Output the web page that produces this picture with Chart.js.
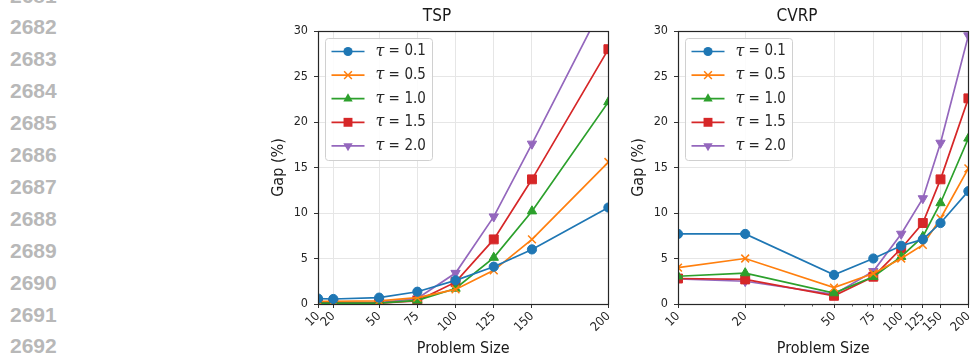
<!DOCTYPE html>
<html>
<head>
<meta charset="utf-8">
<script src="https://cdn.jsdelivr.net/npm/chart.js@4.4.1/dist/chart.umd.min.js"></script>
<style>
  html, body { margin: 0; padding: 0; background: #fff; width: 977px; height: 358px; overflow: hidden; position: relative; }
  .ln { position: absolute; left: 10px; font: bold 21px 'Liberation Sans', Arial, sans-serif; line-height: 21px; color: #b8b8b8; }
  canvas { position: absolute; top: 0; }
</style>
</head>
<body>
<div id="lines"></div>
<canvas id="tsp" width="358" height="358" style="left:262px"></canvas>
<canvas id="cvrp" width="358" height="358" style="left:622px"></canvas>
<script>
// ---------------- data ----------------
const sizes = [10, 20, 50, 75, 100, 125, 150, 200];
const taus = ['0.1', '0.5', '1.0', '1.5', '2.0'];
const yTicks = [0, 5, 10, 15, 20, 25, 30];
const cvrpMinorTicks = [30, 40, 60, 70, 80, 90];
const lineNumbers = [2681, 2682, 2683, 2684, 2685, 2686, 2687, 2688, 2689, 2690, 2691, 2692];

// TSP gap (%)
const tspTau01 = [0.6, 0.55, 0.7, 1.35, 2.6, 4.1, 6.0, 10.6];
const tspTau05 = [0.3, 0.3, 0.35, 0.7, 1.6, 3.7, 7.1, 15.6];
const tspTau10 = [0.1, 0.1, 0.1, 0.4, 1.7, 5.1, 10.2, 22.2];
const tspTau15 = [0.1, 0.1, 0.1, 0.35, 2.4, 7.1, 13.7, 28.0];
const tspTau20 = [0.15, 0.15, 0.15, 0.6, 3.4, 9.6, 17.6, 34.0];

// CVRP gap (%)
const cvrpTau01 = [7.7, 7.7, 3.2, 5.0, 6.4, 7.1, 8.9, 12.4];
const cvrpTau05 = [4.0, 5.0, 1.8, 3.35, 5.0, 6.5, 9.4, 14.9];
const cvrpTau10 = [3.05, 3.4, 1.2, 3.0, 5.2, 7.4, 11.1, 18.2];
const cvrpTau15 = [2.8, 2.7, 0.9, 3.0, 6.1, 8.9, 13.7, 22.6];
const cvrpTau20 = [2.75, 2.5, 1.05, 3.6, 7.7, 11.6, 17.7, 29.5];

// ---------------- styles ----------------
const colors = ['#1f77b4', '#ff7f0e', '#2ca02c', '#d62728', '#9467bd'];
const markers = [
  { style: 'circle', radius: 4.6, rotation: 0 },
  { style: 'crossRot', radius: 5.5, rotation: 0 },
  { style: 'triangle', radius: 5.4, rotation: 0 },
  { style: 'rect', radius: 6.3, rotation: 0 },
  { style: 'triangle', radius: 5.4, rotation: 180 }
];
const FONT = "'DejaVu Sans Condensed', 'DejaVu Sans', sans-serif";
Chart.defaults.font.family = FONT;
Chart.defaults.color = '#262626';

// line numbers down the page margin
const lines = document.getElementById('lines');
lineNumbers.forEach((n, i) => {
  const d = document.createElement('div');
  d.className = 'ln';
  d.textContent = n;
  d.style.top = (16.4 - 31.9 + 31.9 * i) + 'px';
  lines.appendChild(d);
});

function drawMarker(ctx, m, x, y, color) {
  ctx.save();
  ctx.fillStyle = color;
  ctx.strokeStyle = color;
  ctx.lineWidth = 1;
  ctx.translate(x, y);
  ctx.rotate(m.rotation * Math.PI / 180);
  const r = m.radius;
  ctx.beginPath();
  if (m.style === 'circle') {
    ctx.arc(0, 0, r, 0, Math.PI * 2);
    ctx.fill();
  } else if (m.style === 'crossRot') {
    const o = r * Math.SQRT1_2;
    ctx.lineWidth = 1.5;
    ctx.moveTo(-o, -o); ctx.lineTo(o, o);
    ctx.moveTo(-o, o); ctx.lineTo(o, -o);
    ctx.stroke();
  } else if (m.style === 'triangle') {
    for (let k = 0; k < 3; k++) {
      const a = k * 2 * Math.PI / 3;
      ctx.lineTo(Math.sin(a) * r, -Math.cos(a) * r);
    }
    ctx.closePath();
    ctx.fill();
  } else if (m.style === 'rect') {
    const s = r * Math.SQRT1_2;
    ctx.rect(-s, -s, 2 * s, 2 * s);
    ctx.fill();
  }
  ctx.restore();
}

// frame (all four spines) + legend inside the plot
const framePlugin = {
  id: 'frame',
  afterDatasetsDraw(chart) {
    const { ctx, chartArea: a } = chart;
    ctx.save();
    ctx.strokeStyle = '#262626';
    ctx.lineWidth = 1.2;
    ctx.strokeRect(Math.round(a.left) + 0.5, Math.round(a.top) + 0.5,
      Math.round(a.right - a.left), Math.round(a.bottom - a.top));
    ctx.restore();
  },
  afterDraw(chart) {
    const { ctx, chartArea: a } = chart;
    const x0 = a.left + 7.5, y0 = a.top + 7.5, w = 107, h = 122;
    ctx.save();
    ctx.beginPath();
    ctx.roundRect(x0, y0, w, h, 3);
    ctx.fillStyle = 'rgba(255,255,255,0.85)';
    ctx.fill();
    ctx.strokeStyle = '#d0d0d0';
    ctx.lineWidth = 1;
    ctx.stroke();
    taus.forEach((t, i) => {
      const cy = y0 + 13 + 23.6 * i;
      ctx.strokeStyle = colors[i];
      ctx.lineWidth = 1.7;
      ctx.beginPath();
      ctx.moveTo(x0 + 6, cy);
      ctx.lineTo(x0 + 39, cy);
      ctx.stroke();
      drawMarker(ctx, markers[i], x0 + 22.5, cy, colors[i]);
      ctx.fillStyle = '#262626';
      ctx.textBaseline = 'middle';
      ctx.textAlign = 'left';
      ctx.font = "italic 16px 'DejaVu Serif', serif";
      ctx.fillText('\u03c4', x0 + 50, cy);
      ctx.font = '15px ' + FONT;
      ctx.fillText('=', x0 + 63, cy);
      ctx.fillText(t, x0 + 79, cy);
    });
    ctx.restore();
  }
};

// short minor ticks on the log axis
const minorTickPlugin = {
  id: 'minorTicks',
  afterDraw(chart, args, opts) {
    if (!opts.values) return;
    const { ctx, chartArea: a, scales: { x } } = chart;
    ctx.save();
    ctx.strokeStyle = '#333';
    ctx.lineWidth = 0.8;
    opts.values.forEach(v => {
      const px = Math.round(x.getPixelForValue(v)) + 0.5;
      ctx.beginPath();
      ctx.moveTo(px, a.bottom);
      ctx.lineTo(px, a.bottom + 2.5);
      ctx.stroke();
    });
    ctx.restore();
  }
};

function makeChart(id, title, xType, series, minor) {
  const datasets = series.map((vals, i) => ({
    label: '\u03c4 = ' + taus[i],
    data: sizes.map((s, k) => ({ x: s, y: vals[k] })),
    borderColor: colors[i],
    backgroundColor: colors[i],
    borderWidth: 1.7,
    pointStyle: markers[i].style,
    pointRadius: markers[i].radius,
    pointRotation: markers[i].rotation,
    pointBackgroundColor: colors[i],
    pointBorderColor: colors[i],
    pointBorderWidth: markers[i].style === 'crossRot' ? 1.5 : 1,
    pointHoverRadius: markers[i].radius,
    tension: 0
  }));
  return new Chart(document.getElementById(id), {
    type: 'line',
    data: { datasets },
    plugins: [framePlugin, minorTickPlugin],
    options: {
      responsive: false,
      animation: false,
      layout: { padding: { left: 0, right: 8, top: 0, bottom: 0 } },
      plugins: {
        legend: { display: false },
        tooltip: { enabled: false },
        title: {
          display: true, text: title, color: '#1a1a1a',
          font: { size: 17, weight: 'normal' }, padding: { top: 6, bottom: 4.6 }
        },
        minorTicks: { values: minor }
      },
      scales: {
        x: {
          type: xType, min: 10, max: 200,
          afterBuildTicks: s => { s.ticks = sizes.map(v => ({ value: v })); },
          afterFit: s => { s.height = 54; },
          grid: { color: '#e6e6e6', lineWidth: 1, tickLength: 4, tickColor: '#333' },
          border: { display: false },
          ticks: {
            autoSkip: false, minRotation: 45, maxRotation: 45, padding: 1,
            font: { size: 12.5 }, color: '#262626',
            callback: v => String(v)
          },
          title: {
            display: true, text: 'Problem Size', color: '#1a1a1a',
            font: { size: 16 }, padding: { top: 0, bottom: 0 }
          }
        },
        y: {
          min: 0, max: 30,
          afterBuildTicks: s => { s.ticks = yTicks.map(v => ({ value: v })); },
          afterFit: s => { s.width = 56; },
          grid: { color: '#e6e6e6', lineWidth: 1, tickLength: 4, tickColor: '#333' },
          border: { display: false },
          ticks: { padding: 6, font: { size: 12.5 }, color: '#262626' },
          title: {
            display: true, text: 'Gap (%)', color: '#1a1a1a',
            font: { size: 16 }, padding: { top: 7, bottom: 0 }
          }
        }
      }
    }
  });
}

makeChart('tsp', 'TSP', 'linear', [tspTau01, tspTau05, tspTau10, tspTau15, tspTau20], null);
makeChart('cvrp', 'CVRP', 'logarithmic', [cvrpTau01, cvrpTau05, cvrpTau10, cvrpTau15, cvrpTau20], cvrpMinorTicks);
</script>
</body>
</html>
